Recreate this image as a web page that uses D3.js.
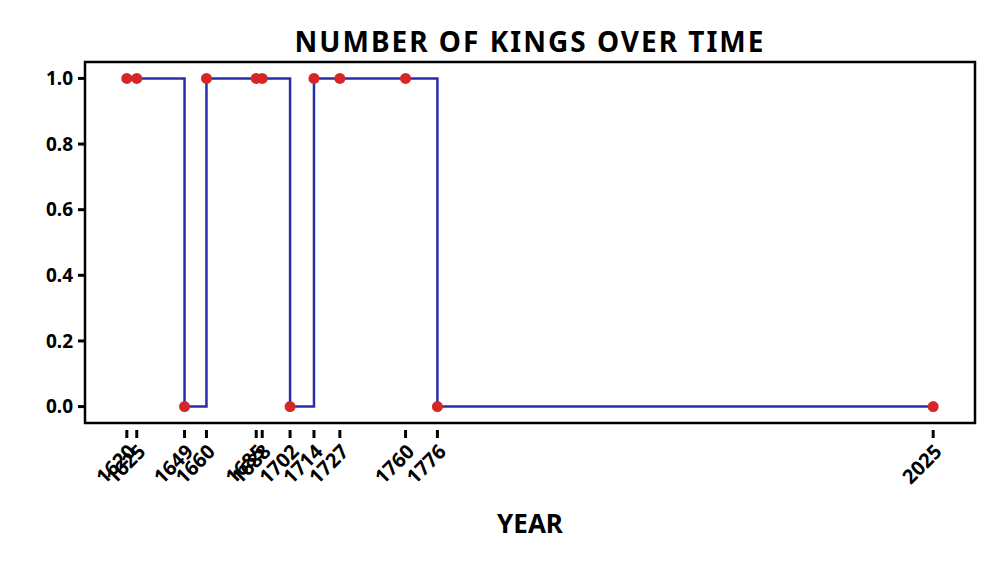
<!DOCTYPE html>
<html><head><meta charset="utf-8">
<script src="https://cdn.jsdelivr.net/npm/d3@7"></script>
<style>body{margin:0;background:#fff}text{font-family:"Noto Sans",sans-serif}</style>
</head><body><div id="chart"></div>
<script>
// data
const years = [1620, 1625, 1649, 1660, 1685, 1688, 1702, 1714, 1727, 1760, 1776, 2025];
const kings = [1, 1, 0, 1, 1, 1, 0, 1, 1, 1, 0, 0];
const yTicks = [0, 0.2, 0.4, 0.6, 0.8, 1.0];

const svgWidth = 1000, svgHeight = 563;
const margin = {top: 62, right: 25, bottom: 140, left: 85};
const chartWidth = svgWidth - margin.left - margin.right;
const chartHeight = svgHeight - margin.top - margin.bottom;

let svg = d3.select("#chart").append("svg")
  .attr("width", svgWidth).attr("height", svgHeight);
let g = svg.append("g").attr("transform", `translate(${margin.left},${margin.top})`);

let x = d3.scaleLinear().domain([1599, 2046]).range([0, chartWidth]);
let y = d3.scaleLinear().domain([-0.05, 1.05]).range([chartHeight, 0]);

// frame
g.append("rect").attr("width", chartWidth).attr("height", chartHeight)
  .attr("fill", "none").attr("stroke", "#000").attr("stroke-width", 2.5);

// y ticks
yTicks.forEach(t => {
  g.append("line").attr("x1", -7).attr("x2", 0).attr("y1", y(t)).attr("y2", y(t))
    .attr("stroke", "#000").attr("stroke-width", 3);
  g.append("text").attr("x", -12).attr("y", y(t)).attr("dy", "0.35em")
    .attr("text-anchor", "end").attr("font-size", 19).attr("font-weight", "bold")
    .text(t.toFixed(1));
});

// x ticks
years.forEach(yr => {
  g.append("line").attr("x1", x(yr)).attr("x2", x(yr)).attr("y1", chartHeight + 7).attr("y2", chartHeight + 15)
    .attr("stroke", "#000").attr("stroke-width", 3);
  g.append("text").attr("font-size", 20).attr("font-weight", "bold").attr("text-anchor", "end")
    .attr("transform", `translate(${x(yr) + 10},${chartHeight + 30}) rotate(-45)`)
    .text(yr);
});

// step line
const data = years.map((d, i) => [d, kings[i]]);
g.append("path").datum(data)
  .attr("d", d3.line().x(d => x(d[0])).y(d => y(d[1])).curve(d3.curveStepAfter))
  .attr("fill", "none").attr("stroke", "#2c2ca8").attr("stroke-width", 2.5);

g.selectAll("circle").data(data).enter().append("circle")
  .attr("cx", d => x(d[0])).attr("cy", d => y(d[1])).attr("r", 5.5)
  .attr("fill", "#d62728");

svg.append("text").attr("x", margin.left + chartWidth / 2).attr("y", 52)
  .attr("text-anchor", "middle").attr("font-size", 28).attr("font-weight", "bold").attr("letter-spacing", 2)
  .text("NUMBER OF KINGS OVER TIME");
svg.append("text").attr("x", margin.left + chartWidth / 2).attr("y", 533)
  .attr("text-anchor", "middle").attr("font-size", 26).attr("font-weight", "bold")
  .text("YEAR");
</script></body></html>
